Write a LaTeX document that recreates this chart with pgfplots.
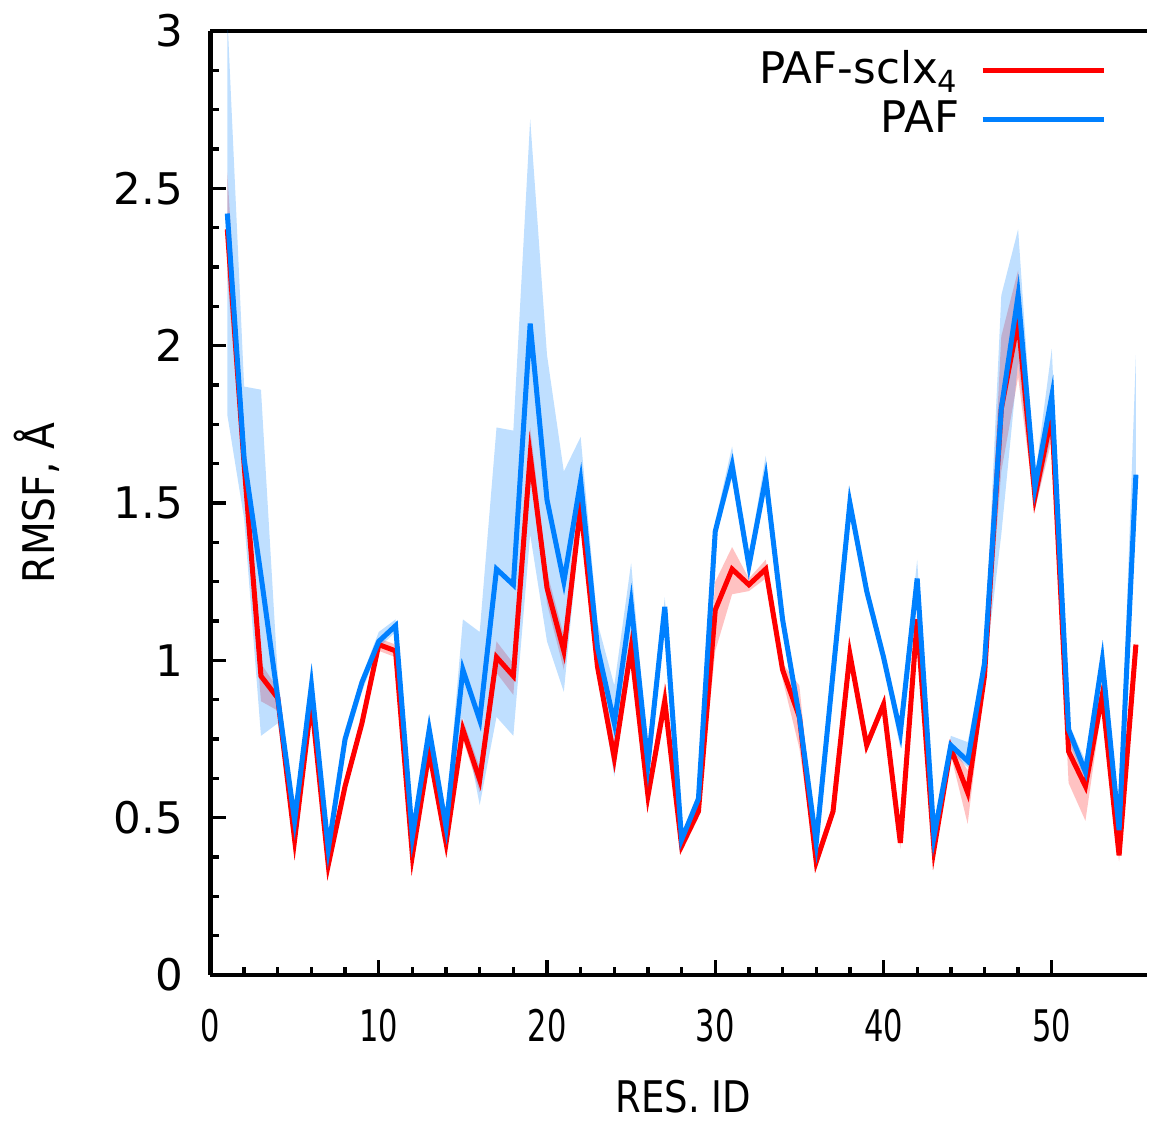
\documentclass[border=0pt]{standalone}
\usepackage{fontspec}
\setmainfont{DejaVu Sans}
\usepackage{graphicx}
\usepackage{pgfplots}
\usepackage{pgfplotstable}
\pgfplotsset{compat=1.18}
\usepgfplotslibrary{fillbetween}
\definecolor{pafred}{RGB}{255,0,0}
\definecolor{pafblue}{RGB}{0,128,255}

% b = PAF, r = PAF-sclx4; l/u = lower/upper edge of the shaded band
\pgfplotstableread{
x b bl bu r rl ru
1 2.42 1.78 3.05 2.37 2.22 2.55
2 1.64 1.45 1.87 1.62 1.55 1.70
3 1.27 0.76 1.86 0.95 0.87 0.99
4 0.88 0.80 0.95 0.88 0.84 0.91
5 0.49 0.45 0.52 0.43 0.41 0.45
6 0.92 0.87 0.99 0.87 0.84 0.90
7 0.40 0.38 0.42 0.35 0.33 0.37
8 0.75 0.72 0.78 0.60 0.58 0.62
9 0.93 0.90 0.95 0.80 0.78 0.82
10 1.06 1.04 1.09 1.05 1.03 1.07
11 1.11 1.09 1.13 1.03 1.01 1.05
12 0.44 0.41 0.46 0.38 0.36 0.40
13 0.78 0.75 0.82 0.71 0.69 0.73
14 0.47 0.45 0.50 0.42 0.40 0.44
15 0.97 0.82 1.13 0.78 0.75 0.81
16 0.81 0.54 1.09 0.62 0.58 0.66
17 1.29 0.82 1.74 1.01 0.96 1.06
18 1.24 0.76 1.73 0.95 0.89 0.99
19 2.07 1.40 2.72 1.65 1.60 1.74
20 1.51 1.06 1.97 1.23 1.18 1.28
21 1.25 0.90 1.60 1.03 0.97 1.08
22 1.57 1.45 1.71 1.49 1.45 1.55
23 1.04 0.98 1.12 0.98 0.95 1.01
24 0.80 0.63 0.92 0.69 0.64 0.74
25 1.18 1.05 1.31 1.04 1.01 1.08
26 0.67 0.60 0.70 0.57 0.55 0.60
27 1.17 1.12 1.20 0.87 0.83 0.93
28 0.43 0.41 0.45 0.41 0.39 0.43
29 0.56 0.53 0.58 0.52 0.50 0.54
30 1.41 1.39 1.44 1.16 1.03 1.25
31 1.62 1.58 1.68 1.29 1.21 1.36
32 1.30 1.27 1.33 1.24 1.22 1.26
33 1.58 1.54 1.65 1.29 1.26 1.32
34 1.13 1.10 1.15 0.97 0.94 0.99
35 0.82 0.80 0.85 0.82 0.72 0.92
36 0.42 0.40 0.44 0.36 0.34 0.38
37 0.96 0.93 0.98 0.52 0.50 0.54
38 1.50 1.47 1.54 1.02 1.00 1.04
39 1.22 1.20 1.25 0.73 0.71 0.75
40 1.01 0.99 1.04 0.86 0.84 0.88
41 0.77 0.72 0.80 0.42 0.40 0.44
42 1.26 1.24 1.32 1.13 1.10 1.16
43 0.44 0.42 0.46 0.40 0.38 0.42
44 0.73 0.71 0.76 0.72 0.70 0.74
45 0.68 0.66 0.74 0.58 0.48 0.65
46 0.99 0.95 1.01 0.95 0.92 0.98
47 1.80 1.40 2.16 1.80 1.60 2.03
48 2.16 1.95 2.37 2.08 1.90 2.24
49 1.55 1.48 1.58 1.52 1.48 1.56
50 1.84 1.72 1.99 1.78 1.70 1.82
51 0.78 0.74 0.80 0.71 0.61 0.78
52 0.645 0.62 0.68 0.60 0.49 0.66
53 1.00 0.97 1.03 0.89 0.86 0.92
54 0.46 0.44 0.48 0.38 0.36 0.40
55 1.59 1.45 1.97 1.05 1.02 1.06
}\rmsf

\begin{document}
\fontsize{13}{15.6}\selectfont
\begin{tikzpicture}
\begin{axis}[name=ax, scale only axis, width=9.82cm, height=9.90cm,
  xmin=0, xmax=55.65, ymin=0, ymax=3,
  axis x line=box, axis y line=left, axis line style={-, line width=1.3pt},
  xtick={0,10,...,50}, minor x tick num=4,
  ytick={0,0.5,...,3}, minor y tick num=3,
  xtick pos=left, ytick pos=left, tick align=inside,
  major tick length=0.16cm, minor tick length=0.085cm,
  tick style={black, line width=1pt},
  /pgf/number format/assume math mode=true,
  xticklabel={\scalebox{0.7}[1]{\pgfmathprintnumber{\tick}}},
  xticklabel style={yshift=-0.2cm},
  yticklabel style={xshift=-0.13cm},
  xlabel={\scalebox{0.85}[1]{RES. ID}},
  ylabel={\scalebox{0.9}[1]{RMSF, Å}},
  xlabel style={at={(axis description cs:0.505,-0.129)}, anchor=center},
  ylabel style={at={(axis description cs:-0.185,0.5)}, anchor=center},
  legend plot pos=right, legend cell align=right,
  legend style={draw=none, fill=none, at={(axis description cs:0.968,0.994)},
    anchor=north east, row sep=-1pt},
  legend image code/.code={\draw[#1] (0cm,0cm) -- (1.27cm,0cm);},
]
\addplot[name path=ru, draw=none, forget plot] table[x=x,y=ru]{\rmsf};
\addplot[name path=rl, draw=none, forget plot] table[x=x,y=rl]{\rmsf};
\addplot[fill=pafred, fill opacity=0.24, draw=none, forget plot] fill between[of=ru and rl];
\addplot[pafred, line width=1.5pt] table[x=x,y=r]{\rmsf};
\addlegendentry{PAF-sclx\textsubscript{4}\hspace*{0.15cm}}
\addplot[name path=bu, draw=none, forget plot] table[x=x,y=bu]{\rmsf};
\addplot[name path=bl, draw=none, forget plot] table[x=x,y=bl]{\rmsf};
\addplot[fill=pafblue, fill opacity=0.25, draw=none, forget plot] fill between[of=bu and bl];
\addplot[pafblue, line width=1.5pt] table[x=x,y=b]{\rmsf};
\addlegendentry{PAF\hspace*{0.15cm}}
\end{axis}
\path (ax.south west) ++(-2.183cm,-1.473cm) rectangle ([yshift=0.261cm]ax.north east);
\end{tikzpicture}
\end{document}
